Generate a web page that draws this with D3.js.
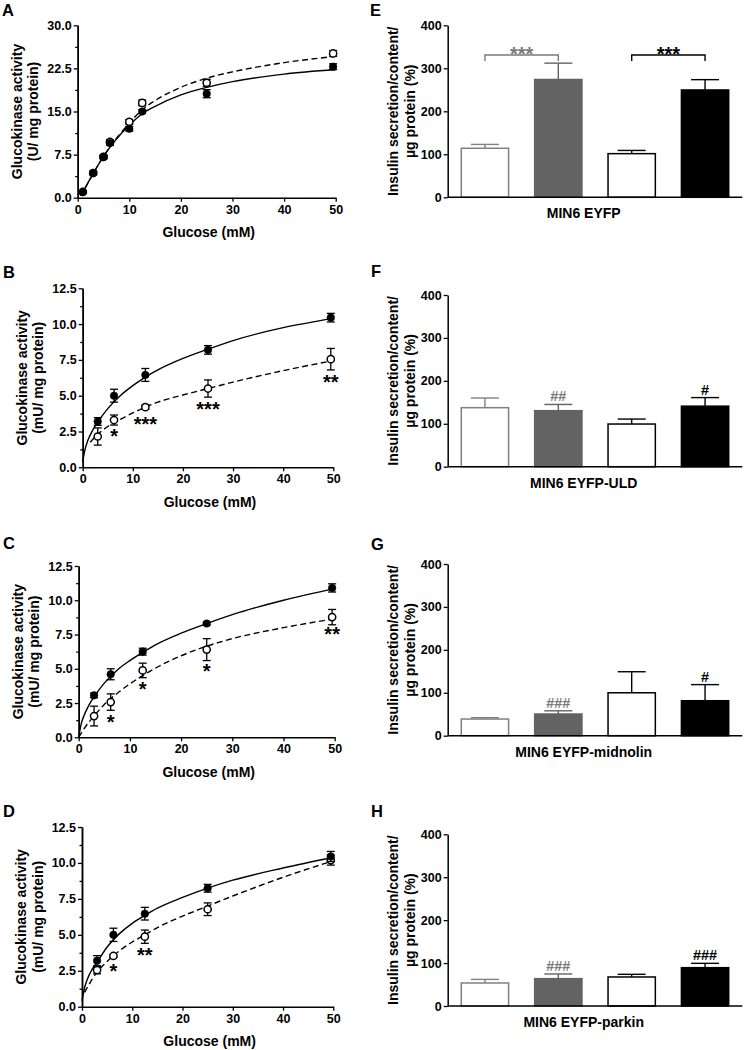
<!DOCTYPE html>
<html><head><meta charset="utf-8">
<script src="https://cdn.jsdelivr.net/npm/d3@7"></script>
<style>
body{margin:0;background:#fff}
text{font-family:"Liberation Sans",Arial,sans-serif;font-weight:bold;fill:#000}
</style>
</head><body>
<svg id="chart" width="745" height="1050"></svg>
<script>
// ---------------- DATA ----------------
const xTicks = [0, 10, 20, 30, 40, 50];
const yTicksA = [0, 7.5, 15, 22.5, 30];
const yTicksBCD = [0, 2.5, 5, 7.5, 10, 12.5];

// Panel A
const glucoseA = [1, 3, 5, 6.25, 10, 12.5, 25, 49.5];
const aFilled = [1.0, 4.3, 7.1, 9.5, 12.0, 15.0, 18.1, 22.8];
const aFilledErr = [0.2, 0.3, 0.3, 0.4, 0.4, 0.3, 0.7, 0.5];
const aOpen = [1.0, 4.3, 7.1, 9.7, 13.2, 16.5, 20.0, 25.1];
const aOpenErr = [0.2, 0.3, 0.3, 0.4, 0.4, 0.5, 0.6, 0.5];
const aFitX = [0.5, 1, 2, 3, 5, 7.5, 10, 12.5, 15, 20, 25, 30, 40, 50];
const aFitSolid = [0.4, 1.0, 2.6, 4.2, 7.2, 10.2, 12.6, 14.6, 15.9, 17.9, 19.2, 20.2, 21.5, 22.3];
const aFitDashed = [0.4, 1.0, 2.6, 4.2, 7.2, 10.3, 13.0, 15.3, 16.9, 19.2, 20.8, 21.9, 23.5, 24.6];

// Panels B-D share glucose levels
const glucoseBCD = [3, 6.25, 12.5, 25, 49.5];

const bFilled = [3.2, 5.0, 6.45, 8.2, 10.45];
const bFilledErr = [0.27, 0.45, 0.45, 0.3, 0.3];
const bOpen = [2.15, 3.3, 4.2, 5.5, 7.55];
const bOpenErr = [0.6, 0.35, 0.15, 0.6, 0.75];
const bFitSolidX = [0, 0.5, 1, 2, 3, 5, 7.5, 10, 12.5, 15, 20, 25, 30, 40, 50];
const bFitSolid = [0.4, 1.3, 1.85, 2.6, 3.15, 4.1, 5.0, 5.7, 6.3, 6.8, 7.6, 8.25, 8.85, 9.75, 10.4];
const bFitDashedX = [1.5, 3, 5, 7.5, 10, 12.5, 15, 20, 25, 30, 40, 50];
const bFitDashed = [1.75, 2.3, 2.85, 3.35, 3.8, 4.2, 4.55, 5.05, 5.5, 5.95, 6.75, 7.45];
const bStars = [["*", 6.25, 2.49], ["***", 12.5, 3.3], ["***", 25, 4.35], ["**", 49.5, 6.24]];

const cFilled = [3.06, 4.6, 6.25, 8.3, 10.9];
const cFilledErr = [0.17, 0.4, 0.25, 0.1, 0.3];
const cOpen = [1.55, 2.57, 4.88, 6.4, 8.77];
const cOpenErr = [0.72, 0.6, 0.53, 0.8, 0.56];
const cFitSolidX = [0, 0.5, 1, 2, 3, 5, 7.5, 10, 12.5, 15, 20, 25, 30, 40, 50];
const cFitSolid = [0, 1.0, 1.55, 2.35, 2.95, 3.95, 4.9, 5.6, 6.2, 6.75, 7.6, 8.3, 8.95, 10.0, 10.85];
const cFitDashedX = [0, 1, 3, 5, 7.5, 10, 12.5, 15, 20, 25, 30, 40, 50];
const cFitDashed = [0, 0.6, 1.55, 2.4, 3.2, 3.9, 4.5, 5.05, 5.95, 6.65, 7.2, 8.0, 8.65];
const cStars = [["*", 6.25, 1.41], ["*", 12.5, 3.81], ["*", 25, 5.15], ["**", 49.5, 7.82]];

const dFilled = [3.2, 5.0, 6.47, 8.24, 10.45];
const dFilledErr = [0.35, 0.46, 0.44, 0.27, 0.35];
const dOpen = [2.55, 3.53, 4.87, 6.78, 10.2];
const dOpenErr = [0.26, 0.1, 0.46, 0.44, 0.35];
const dFitSolidX = [0, 0.5, 1, 2, 3, 5, 7.5, 10, 12.5, 15, 20, 25, 30, 40, 50];
const dFitSolid = [0.4, 1.3, 1.85, 2.6, 3.1, 4.15, 5.1, 5.8, 6.35, 6.85, 7.6, 8.25, 8.8, 9.65, 10.4];
const dFitDashedX = [0.5, 1, 2, 3, 5, 7.5, 10, 12.5, 15, 20, 25, 30, 40, 50];
const dFitDashed = [1.0, 1.3, 1.9, 2.4, 3.15, 3.9, 4.5, 5.0, 5.5, 6.3, 7.0, 7.7, 9.0, 10.15];
const dStars = [["*", 6.25, 2.78], ["**", 12.5, 3.9]];

// Bar panels E-H
const barGroups = ["g1", "g2", "g3", "g4"];
const barTicks = [0, 100, 200, 300, 400];
const eBars = [114, 274, 101.5, 249.6];
const eErr = [9, 38, 7.5, 24];
const fBars = [137.5, 130.5, 99.4, 141];
const fErr = [22.5, 14.5, 11.6, 20];
const gBars = [38.8, 50.5, 100, 81.5];
const gErr = [3.2, 7.5, 49, 37.5];
const hBars = [53.6, 63.7, 67.6, 89.3];
const hErr = [8.4, 10.9, 6.2, 10.1];
const fHash = ["", "##", "", "#"];
const gHash = ["", "###", "", "#"];
const hHash = ["", "###", "", "###"];

// ---------------- STYLE / LAYOUT ----------------
const svg = d3.select("#chart");
const GRAY_LINE = "#808080", GRAY_FILL = "#636363", GRAY_TXT = "#7a7a7a";
const barFill = ["#fff", GRAY_FILL, "#fff", "#000"];
const barStroke = [GRAY_LINE, GRAY_FILL, "#000", "#000"];
const barErrColor = [GRAY_LINE, GRAY_FILL, "#000", "#000"];
const hashColor = [GRAY_TXT, GRAY_TXT, "#000", "#000"];
const TICK_FS = 12.5, TITLE_FS = 14;

function letter(t, x, y) {
  svg.append("text").attr("x", x).attr("y", y).attr("font-size", 16.5).text(t);
}

function styleAxis(sel, fs) {
  sel.select(".domain").attr("stroke", "#000").attr("stroke-width", 1.5);
  sel.selectAll(".tick line").attr("stroke", "#000").attr("stroke-width", 1.3);
  sel.selectAll("text").attr("font-size", fs).attr("fill", "#000")
     .style("font-family", '"Liberation Sans",Arial,sans-serif').style("font-weight", "bold");
}

function curvePanel(p) {
  const x = d3.scaleLinear([0, 50], [p.l, p.r]);
  const y = d3.scaleLinear([0, p.ymax], [p.b, p.t]);
  const g = svg.append("g");
  const minor = [];
  for (let i = 0; i < p.yt.length - 1; i++) minor.push((p.yt[i] + p.yt[i + 1]) / 2);
  g.append("g").attr("transform", `translate(${p.l},0)`)
    .call(d3.axisLeft(y).tickValues(minor).tickSize(2.5).tickSizeOuter(0).tickFormat(""))
    .call(s => styleAxis(s, TICK_FS));
  g.append("g").attr("transform", `translate(${p.l},0)`)
    .call(d3.axisLeft(y).tickValues(p.yt).tickSize(4).tickSizeOuter(0).tickPadding(2).tickFormat(d3.format(".1f")))
    .call(s => styleAxis(s, TICK_FS));
  g.append("g").attr("transform", `translate(0,${p.b})`)
    .call(d3.axisBottom(x).tickValues(xTicks).tickSize(4).tickSizeOuter(0).tickPadding(3).tickFormat(d3.format("d")))
    .call(s => styleAxis(s, TICK_FS));
  const cy = (p.b + p.t) / 2;
  const tt = g.append("text").attr("transform", `translate(${p.l - 56},${cy}) rotate(-90)`)
    .attr("text-anchor", "middle").attr("font-size", TITLE_FS);
  tt.append("tspan").attr("x", 0).attr("dy", 0).text("Glucokinase activity");
  tt.append("tspan").attr("x", 0).attr("dy", 16.5).text(p.unit);
  g.append("text").attr("x", (p.l + p.r) / 2 + 2).attr("y", p.b + 39.5)
    .attr("text-anchor", "middle").attr("font-size", TITLE_FS).text("Glucose (mM)");
  const line = d3.line().x(d => x(d[0])).y(d => y(d[1])).curve(d3.curveMonotoneX);
  g.append("path").attr("d", line(d3.zip(p.fsx, p.fs))).attr("fill", "none")
    .attr("stroke", "#000").attr("stroke-width", 1.4);
  g.append("path").attr("d", line(d3.zip(p.fdx, p.fd))).attr("fill", "none")
    .attr("stroke", "#000").attr("stroke-width", 1.4).attr("stroke-dasharray", "6,3.5");
  function series(vals, errs, open) {
    const pts = d3.zip(p.gx, vals, errs);
    const eg = g.append("g").attr("stroke", "#000").attr("stroke-width", 1.3);
    pts.forEach(([gx, v, e]) => {
      eg.append("line").attr("x1", x(gx)).attr("x2", x(gx)).attr("y1", y(v - e)).attr("y2", y(v + e));
      eg.append("line").attr("x1", x(gx) - 4).attr("x2", x(gx) + 4).attr("y1", y(v - e)).attr("y2", y(v - e));
      eg.append("line").attr("x1", x(gx) - 4).attr("x2", x(gx) + 4).attr("y1", y(v + e)).attr("y2", y(v + e));
    });
    g.append("g").selectAll("circle").data(pts).join("circle")
      .attr("cx", d => x(d[0])).attr("cy", d => y(d[1]))
      .attr("r", open ? 3.6 : 3.8)
      .attr("fill", open ? "#fff" : "#000").attr("stroke", "#000").attr("stroke-width", open ? 1.5 : 0.5);
  }
  series(p.open, p.openErr, true);
  series(p.filled, p.filledErr, false);
  if (p.stars) p.stars.forEach(([s, sx, sy]) => {
    g.append("text").attr("x", x(sx)).attr("y", y(sy) + 11).attr("text-anchor", "middle")
      .attr("font-size", 20).text(s);
  });
}

function barPanel(p) {
  const x = d3.scaleBand(barGroups, [p.l, p.r]).paddingInner(0.335).paddingOuter(0.175);
  const y = d3.scaleLinear([0, 400], [p.b, p.t]);
  const g = svg.append("g");
  const bw = x.bandwidth();
  const rows = d3.zip(barGroups, p.vals, p.errs);
  rows.forEach(([k, v, e], i) => {
    const cx = x(k) + bw / 2;
    g.append("line").attr("x1", cx).attr("x2", cx).attr("y1", y(v)).attr("y2", y(v + e))
      .attr("stroke", barErrColor[i]).attr("stroke-width", 1.4);
    g.append("line").attr("x1", cx - 14).attr("x2", cx + 14).attr("y1", y(v + e)).attr("y2", y(v + e))
      .attr("stroke", barErrColor[i]).attr("stroke-width", 1.4);
  });
  g.append("g").selectAll("rect").data(rows).join("rect")
    .attr("x", d => x(d[0]) + 0.75).attr("width", bw - 1.5)
    .attr("y", d => y(d[1])).attr("height", d => y(0) - y(d[1]))
    .attr("fill", (d, i) => barFill[i]).attr("stroke", (d, i) => barStroke[i]).attr("stroke-width", 1.5);
  g.append("g").attr("transform", `translate(${p.l},0)`)
    .call(d3.axisLeft(y).tickValues(barTicks).tickSize(4).tickSizeOuter(0).tickPadding(2).tickFormat(d3.format("d")))
    .call(s => styleAxis(s, TICK_FS));
  g.append("line").attr("x1", p.l).attr("x2", p.r).attr("y1", p.b).attr("y2", p.b)
    .attr("stroke", "#000").attr("stroke-width", 1.5);
  const cy = (p.b + p.t) / 2;
  const tt = g.append("text").attr("transform", `translate(${p.l - 50},${cy}) rotate(-90)`)
    .attr("text-anchor", "middle").attr("font-size", TITLE_FS);
  tt.append("tspan").attr("x", 0).attr("dy", 0).text("Insulin secretion/content/");
  tt.append("tspan").attr("x", 0).attr("dy", 17).text("\u00b5g protein (%)");
  g.append("text").attr("x", p.l + 136).attr("y", p.b + 21)
    .attr("text-anchor", "middle").attr("font-size", TITLE_FS).text(p.label);
  if (p.hash) rows.forEach(([k, v, e], i) => {
    if (!p.hash[i]) return;
    g.append("text").attr("x", x(k) + bw / 2).attr("y", y(v + e) - 3)
      .attr("text-anchor", "middle").attr("font-size", 14.5)
      .style("fill", hashColor[i]).text(p.hash[i]);
  });
  if (p.brackets) p.brackets.forEach(br => {
    const a = x(barGroups[br.from]) + bw / 2, b = x(barGroups[br.to]) + bw / 2;
    const yy = y(br.at), yl = y(br.at - 14);
    g.append("path").attr("d", `M${a},${yl}V${yy}H${b}V${yl}`).attr("fill", "none")
      .attr("stroke", br.color).attr("stroke-width", 1.4);
    g.append("text").attr("x", (a + b) / 2).attr("y", yy + 6).attr("text-anchor", "middle")
      .attr("font-size", 20).style("fill", br.color).text(br.text);
  });
}

// ---------------- DRAW ----------------
letter("A", 2, 16); letter("B", 3, 278); letter("C", 3, 549); letter("D", 3, 817);
letter("E", 370, 16); letter("F", 371, 277); letter("G", 371, 550); letter("H", 371, 817);

curvePanel({l: 77.7, r: 335.7, t: 25.3, b: 197.7, ymax: 30, yt: yTicksA, unit: "(U/ mg protein)",
  gx: glucoseA, filled: aFilled, filledErr: aFilledErr, open: aOpen, openErr: aOpenErr,
  fsx: aFitX, fs: aFitSolid, fdx: aFitX, fd: aFitDashed});
curvePanel({l: 82.7, r: 333.3, t: 288.3, b: 467.3, ymax: 12.5, yt: yTicksBCD, unit: "(mU/ mg protein)",
  gx: glucoseBCD, filled: bFilled, filledErr: bFilledErr, open: bOpen, openErr: bOpenErr,
  fsx: bFitSolidX, fs: bFitSolid, fdx: bFitDashedX, fd: bFitDashed, stars: bStars});
curvePanel({l: 78.7, r: 334.7, t: 566, b: 737.3, ymax: 12.5, yt: yTicksBCD, unit: "(mU/ mg protein)",
  gx: glucoseBCD, filled: cFilled, filledErr: cFilledErr, open: cOpen, openErr: cOpenErr,
  fsx: cFitSolidX, fs: cFitSolid, fdx: cFitDashedX, fd: cFitDashed, stars: cStars});
curvePanel({l: 82, r: 333.3, t: 827, b: 1006.7, ymax: 12.5, yt: yTicksBCD, unit: "(mU/ mg protein)",
  gx: glucoseBCD, filled: dFilled, filledErr: dFilledErr, open: dOpen, openErr: dOpenErr,
  fsx: dFitSolidX, fs: dFitSolid, fdx: dFitDashedX, fd: dFitDashed, stars: dStars});

barPanel({l: 447.7, r: 742.3, t: 25.3, b: 197.3, vals: eBars, errs: eErr, label: "MIN6 EYFP",
  brackets: [{from: 0, to: 1, at: 331, text: "***", color: GRAY_TXT},
             {from: 2, to: 3, at: 331, text: "***", color: "#000"}]});
barPanel({l: 447.7, r: 742.3, t: 295, b: 466.7, vals: fBars, errs: fErr, label: "MIN6 EYFP-ULD", hash: fHash});
barPanel({l: 447.7, r: 742.3, t: 564, b: 735.7, vals: gBars, errs: gErr, label: "MIN6 EYFP-midnolin", hash: gHash});
barPanel({l: 447.7, r: 742.3, t: 834.3, b: 1006, vals: hBars, errs: hErr, label: "MIN6 EYFP-parkin", hash: hHash});
</script>
</body></html>
